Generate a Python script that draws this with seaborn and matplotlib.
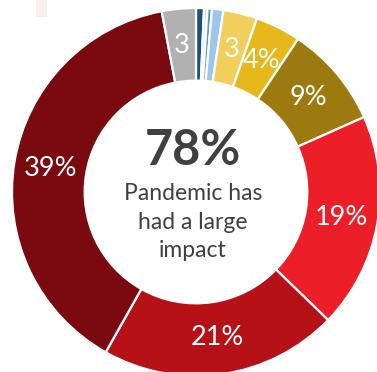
import matplotlib
matplotlib.use("Agg")
import matplotlib.pyplot as plt
import seaborn as sns
from matplotlib.patches import Rectangle

sns.set_theme(style="white")
plt.rcParams["font.family"] = ["Lato", "DejaVu Sans"]

# Share of respondents by reported impact (clockwise from the top)
segments = ["No impact", "Don't know", "Other", "Small positive",
            "Minor", "Some", "Moderate", "Large", "Very large",
            "Severe", "Not applicable"]
shares = [0.7, 0.3, 0.4, 1.0, 3, 4, 9, 19, 21, 39, 3]
labels = ["", "", "", "", "3", "4%", "9%", "19%", "21%", "39%", "3"]
colors = ["#1d4f7c", "#cfe2f3", "#5b9bd5", "#9cc6ea", "#f2cf5c",
          "#e7b81b", "#9c7a0f", "#ec1f28", "#b51117", "#7b0a10", "#b1b1b1"]

headline = "78%"
caption = ["Pandemic has", "had a large", "impact"]

W, H = 377, 372
cx, cy, R = 196, 192, 184  # centre and outer radius in pixels

fig = plt.figure(figsize=(W / 100, H / 100), dpi=100)
ax = fig.add_axes([0, 0, 1, 1])

wedges, texts = ax.pie(
    shares, colors=colors, labels=labels, startangle=90, counterclock=False,
    radius=1.0, labeldistance=0.8,
    wedgeprops=dict(width=0.395, edgecolor="white", linewidth=1.6),
    textprops=dict(color="white", fontsize=19.5),
)
for t in texts:
    t.set_horizontalalignment("center")
    t.set_verticalalignment("center")

ax.set_xlim(-cx / R, (W - cx) / R)
ax.set_ylim(-(H - cy) / R, cy / R)
ax.set_aspect("auto")
ax.axis("off")


def py(p):
    return (cy - p) / R


tx = (193 - cx) / R
ax.text(tx, py(165), headline, ha="center", va="baseline",
        fontsize=35, fontweight="bold", color="#404040")
for line, base in zip(caption, [200, 229, 257]):
    ax.text(tx, py(base), line, ha="center", va="baseline",
            fontsize=16.5, color="#404040")

# faint marker at the top-left edge
fig.patches.append(Rectangle((36 / W, 1 - 17 / H), 11 / W, 17 / H,
                             transform=fig.transFigure,
                             facecolor="#f6efef", edgecolor="none"))

fig.savefig("out.png", dpi=100)
